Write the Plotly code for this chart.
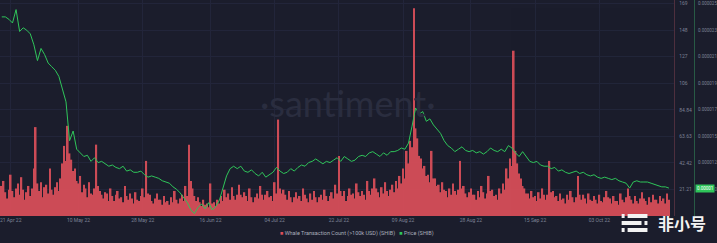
import plotly.graph_objects as go
import pandas as pd

start_date = "2022-04-18"

# whale transaction count, two readings per day (12-hour buckets)
whale_counts = [16, 24, 28, 19, 14, 21, 33, 20, 15, 22, 26, 17, 31, 21, 13, 19, 24, 16, 22, 38,
                71, 26, 20, 27, 15, 23, 25, 18, 38, 21, 17, 23, 27, 20, 30, 42, 56, 44, 72, 50,
                45, 36, 38, 28, 26, 32, 19, 25, 22, 15, 27, 18, 17, 22, 57, 24, 20, 17, 14, 19,
                18, 12, 22, 16, 12, 17, 20, 14, 15, 11, 24, 16, 13, 18, 14, 10, 19, 13, 12, 16,
                22, 15, 44, 18, 17, 12, 10, 14, 18, 13, 13, 9, 16, 11, 12, 9, 15, 11, 20, 13,
                10, 14, 17, 12, 24, 16, 57, 28, 22, 16, 12, 15, 11, 8, 13, 9, 10, 7, 26, 10,
                11, 8, 13, 10, 16, 12, 21, 15, 18, 13, 23, 16, 13, 17, 25, 17, 15, 19, 16, 12,
                22, 15, 11, 15, 18, 14, 24, 17, 13, 17, 20, 15, 16, 12, 27, 18, 77, 22, 18, 21,
                17, 13, 20, 15, 11, 15, 19, 14, 16, 12, 22, 17, 14, 11, 18, 13, 20, 15, 11, 15,
                17, 13, 21, 16, 12, 16, 19, 14, 25, 18, 48, 20, 16, 20, 12, 16, 22, 17, 18, 14,
                26, 19, 16, 20, 17, 13, 28, 20, 17, 22, 30, 22, 19, 15, 23, 18, 27, 20, 16, 21,
                25, 19, 28, 22, 32, 26, 38, 30, 52, 42, 60, 55, 166, 70, 62, 48, 46, 38, 40, 32,
                33, 27, 52, 30, 30, 24, 25, 19, 27, 21, 20, 15, 22, 17, 26, 20, 17, 21, 44, 22,
                24, 18, 15, 19, 22, 17, 17, 13, 20, 15, 24, 19, 14, 18, 32, 20, 21, 16, 17, 13,
                22, 18, 26, 21, 38, 30, 46, 40, 132, 52, 42, 34, 30, 24, 22, 18, 18, 14, 20, 15,
                16, 12, 19, 14, 22, 17, 13, 17, 44, 19, 20, 15, 16, 12, 18, 13, 14, 10, 17, 13,
                20, 15, 11, 15, 32, 17, 13, 17, 14, 10, 18, 13, 12, 16, 13, 10, 17, 12, 11, 15,
                20, 15, 14, 10, 16, 12, 12, 9, 18, 13, 11, 15, 22, 16, 13, 10, 16, 12, 10, 14,
                19, 14, 12, 9, 15, 11, 17, 13, 13, 10, 16, 12, 14, 10, 18, 13]

# SHIB price in millionths of a USD, one reading per day
price_micro = [24.4, 24.4, 24.2, 23.9, 25.0, 23.2, 23.5, 23.3, 23.0, 22.1, 20.8, 21.8, 21.3, 20.6, 20.3,
               20.0, 19.5, 18.5, 17.4, 14.2, 15.0, 13.5, 13.2, 12.9, 13.0, 12.5, 12.8, 12.4, 12.5, 12.3,
               12.1, 12.2, 12.0, 11.9, 12.1, 11.7, 11.8, 11.6, 11.6, 11.7, 11.4, 11.2, 11.3, 11.2, 11.1,
               10.9, 10.8, 10.7, 10.4, 10.2, 9.9, 9.5, 9.1, 8.5, 8.2, 8.7, 9.0, 8.6, 9.1, 8.5,
               8.8, 9.3, 10.3, 11.3, 11.9, 12.1, 11.9, 12.1, 11.7, 11.6, 11.8, 11.5, 11.3, 11.6, 11.2,
               11.4, 11.6, 12.0, 11.7, 11.5, 11.6, 11.9, 11.7, 12.0, 12.2, 12.1, 12.4, 12.5, 12.7, 12.5,
               12.3, 12.5, 12.4, 12.6, 12.8, 12.5, 12.9, 12.7, 12.5, 12.6, 12.9, 13.0, 12.9, 13.2, 13.3,
               13.1, 12.9, 13.2, 13.0, 13.3, 13.3, 13.4, 13.6, 13.5, 14.0, 15.4, 16.9, 16.4, 16.6, 15.8,
               16.0, 15.5, 15.1, 14.8, 14.2, 13.8, 13.6, 13.3, 13.5, 13.7, 13.4, 13.3, 13.4, 13.2, 13.3,
               13.1, 13.3, 13.6, 13.4, 13.3, 13.5, 13.3, 13.8, 13.6, 13.2, 12.9, 13.3, 12.9, 12.5, 12.4,
               12.5, 12.2, 12.1, 12.1, 11.9, 12.0, 11.7, 11.8, 11.6, 11.5, 11.6, 11.7, 11.5, 11.6, 11.4,
               11.3, 11.4, 11.2, 11.1, 11.2, 11.1, 11.0, 11.1, 10.9, 10.8, 10.7, 10.3, 10.8, 10.9, 10.8,
               10.8, 10.8, 10.7, 10.6, 10.5, 10.4, 10.4, 10.3]

x_tick_dates = ["2022-04-21", "2022-05-10", "2022-05-28", "2022-06-16", "2022-07-04",
                "2022-07-22", "2022-08-09", "2022-08-28", "2022-09-15", "2022-10-03"]
x_tick_labels = ["21 Apr 22", "10 May 22", "28 May 22", "16 Jun 22", "04 Jul 22",
                 "22 Jul 22", "09 Aug 22", "28 Aug 22", "15 Sep 22", "03 Oct 22"]

count_step = 21.21
count_ticks = [count_step * k for k in range(1, 9)]
count_tick_labels = ["21.21", "42.42", "63.63", "84.84", "106", "127", "148", "169"]

price_min = 8.0e-6
price_span = 17.5e-6
price_ticks = [price_min + price_span * k / 8 for k in range(1, 9)]
price_tick_labels = [f"{v:.6f}" for v in price_ticks]

count_dates = pd.date_range(start_date, periods=len(whale_counts), freq="12h")
price_dates = pd.date_range(start_date + " 12:00", periods=len(price_micro), freq="D")
prices = [v * 1e-6 for v in price_micro]

BG = "#1b1d2c"
RED = "#dc4f5a"
GREEN = "#2fc55a"
TICK = "#7d8296"
GRID = "#22253a"

PLOT_H = 216  # plot area height in px

fig = go.Figure()
fig.add_trace(go.Bar(x=count_dates, y=whale_counts, marker=dict(color=RED, line_width=0),
                     opacity=0.92, name="Whale Transaction Count (>100k USD) (SHIB)", yaxis="y"))
fig.add_trace(go.Scatter(x=price_dates, y=prices, mode="lines", line=dict(color=GREEN, width=1),
                         name="Price (SHIB)", yaxis="y2"))

top_count = 172.5
top_price = price_min + price_span * top_count / (count_step * 8)

dom_r = 679 / 717
fig.update_layout(
    width=717, height=243,
    margin=dict(l=0, r=0, t=0, b=27),
    paper_bgcolor=BG, plot_bgcolor=BG,
    showlegend=False, bargap=0.08,
    font=dict(family="Roboto, Lato, sans-serif", color=TICK, size=5),
    xaxis=dict(domain=[0, dom_r], range=["2022-04-18 00:00", "2022-10-24 00:00"],
               tickvals=x_tick_dates, ticktext=x_tick_labels, tickfont=dict(size=5, color=TICK),
               showgrid=True, gridcolor=GRID, gridwidth=1, zeroline=False, showline=False,
               ticks="", ticklen=0, ticklabeloverflow="allow"),
    yaxis=dict(side="right", anchor="x", range=[0, top_count], tickvals=count_ticks,
               ticktext=count_tick_labels, tickfont=dict(size=5, color=TICK),
               showgrid=True, gridcolor=GRID, zeroline=False, showline=True,
               linecolor="#4e2f3e", linewidth=1, ticks="", ticklabelstandoff=3),
    yaxis2=dict(side="right", overlaying="y", anchor="free", position=699 / 717,
                range=[price_min, top_price], tickvals=price_ticks, ticktext=price_tick_labels,
                tickfont=dict(size=4.5, color=TICK), showgrid=False, zeroline=False,
                showline=True, linecolor="#285a45", linewidth=1, ticks="", ticklabelstandoff=2),
)

# current price badge
fig.add_annotation(x=700 / 717, xref="paper", xanchor="left", y=prices[-1], yref="y2",
                   text="0.00001", showarrow=False, bgcolor=GREEN,
                   font=dict(size=4.5, color="#ffffff"), borderpad=1)

# watermark
fig.add_annotation(x=350 / 717, xref="paper", y=(PLOT_H - 103) / PLOT_H, yref="paper",
                   text="·santiment·", showarrow=False,
                   font=dict(size=36, color="#2a2d3f", family="Lato, sans-serif"))

# legend
fig.add_annotation(x=360 / 717, xref="paper", y=(PLOT_H - 234) / PLOT_H, yref="paper",
                   yanchor="middle",
                   text=f"<span style='color:{RED}'>■</span> Whale Transaction Count (>100k USD) (SHIB)"
                        f"   <span style='color:{GREEN}'>■</span> Price (SHIB)",
                   showarrow=False, font=dict(size=5.5, color="#a9adbb"))

# 非小号 logo
fig.add_annotation(x=713 / 717, xref="paper", xanchor="right", y=(PLOT_H - 223) / PLOT_H,
                   yref="paper", yanchor="middle", text="<b>非小号</b>", showarrow=False,
                   font=dict(size=16, color="#f2f2f2", family="Noto Sans CJK SC"))
for (x0, x1, yy) in [(626, 629, 216), (632, 652, 216), (626, 646, 223), (649, 652, 223),
                     (626, 629, 230), (632, 652, 230)]:
    fig.add_shape(type="rect", xref="paper", yref="paper", x0=x0 / 717, x1=x1 / 717,
                  y0=(PLOT_H - yy - 2) / PLOT_H, y1=(PLOT_H - yy + 2) / PLOT_H,
                  fillcolor="#f2f2f2", line_width=0)

fig.write_html("out.html")
